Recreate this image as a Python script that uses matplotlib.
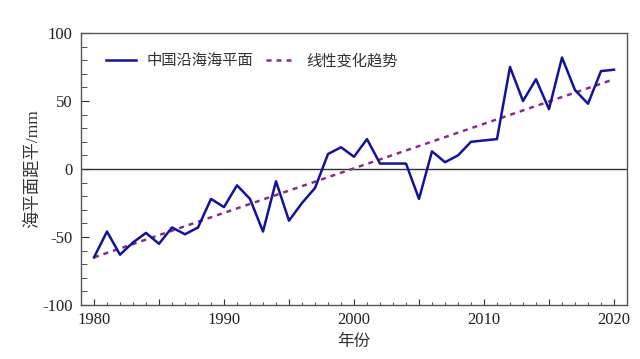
import matplotlib.pyplot as plt
from matplotlib.ticker import MultipleLocator, FuncFormatter

# 中国沿海海平面距平 (mm)
years = list(range(1980, 2021))
sea_level = [-65, -46, -63, -54, -47, -55, -43, -48, -43, -22,
             -28, -12, -22, -46, -9, -38, -25, -14, 11, 16,
             9, 22, 4, 4, 4, -22, 13, 5, 10, 20,
             21, 22, 75, 50, 66, 44, 82, 58, 48, 72,
             73]
# 线性变化趋势 端点
trend_years = [1980, 2020]
trend_values = [-65, 66]

plt.rcParams['font.family'] = ['Liberation Serif', 'Noto Sans CJK SC']
plt.rcParams['axes.unicode_minus'] = False

fig = plt.figure(figsize=(6.4, 3.59), dpi=100)
ax = fig.add_axes([81/640, 1-305/359, (627-81)/640, (305-33)/359])

ax.axhline(0, color='#333333', linewidth=1.0, zorder=1)
ax.plot(years, sea_level, color='#12139a', linewidth=1.8, label='中国沿海海平面', zorder=3)
ax.plot(trend_years, trend_values, color='#8a2b8f', linewidth=1.8, linestyle=(0, (2, 2)),
        label='线性变化趋势', zorder=2)

ax.set_xlim(1979, 2021)
ax.set_ylim(-100, 100)
# 每5年长刻度, 每10年标注
ax.xaxis.set_major_locator(MultipleLocator(5))
ax.xaxis.set_minor_locator(MultipleLocator(1))
ax.xaxis.set_major_formatter(FuncFormatter(lambda v, p: f'{int(v)}' if int(round(v)) % 10 == 0 else ''))
ax.yaxis.set_major_locator(MultipleLocator(50))
ax.yaxis.set_minor_locator(MultipleLocator(10))
ax.tick_params(which='both', direction='in', top=False, right=False,
               labelsize=12, labelcolor='#222222', color='#333333')
ax.tick_params(axis='x', which='major', length=4.5, pad=5)
ax.tick_params(axis='x', which='minor', length=2.5)
ax.tick_params(axis='y', which='major', length=5.5, pad=6)
ax.tick_params(axis='y', which='minor', length=4)
for s in ax.spines.values():
    s.set_color('#555555')
    s.set_linewidth(1.0)

ax.set_xlabel('年份', fontsize=12, color='#333333', labelpad=4)
ax.set_ylabel('海平面距平/mm', fontsize=12.5, color='#333333', labelpad=0)

ax.legend(loc='upper left', ncol=2, frameon=False, fontsize=11,
          handlelength=2.0, handletextpad=0.65, columnspacing=0.85,
          bbox_to_anchor=(0.02, 0.975), labelcolor='#333333')

fig.savefig('out.png', dpi=100)
